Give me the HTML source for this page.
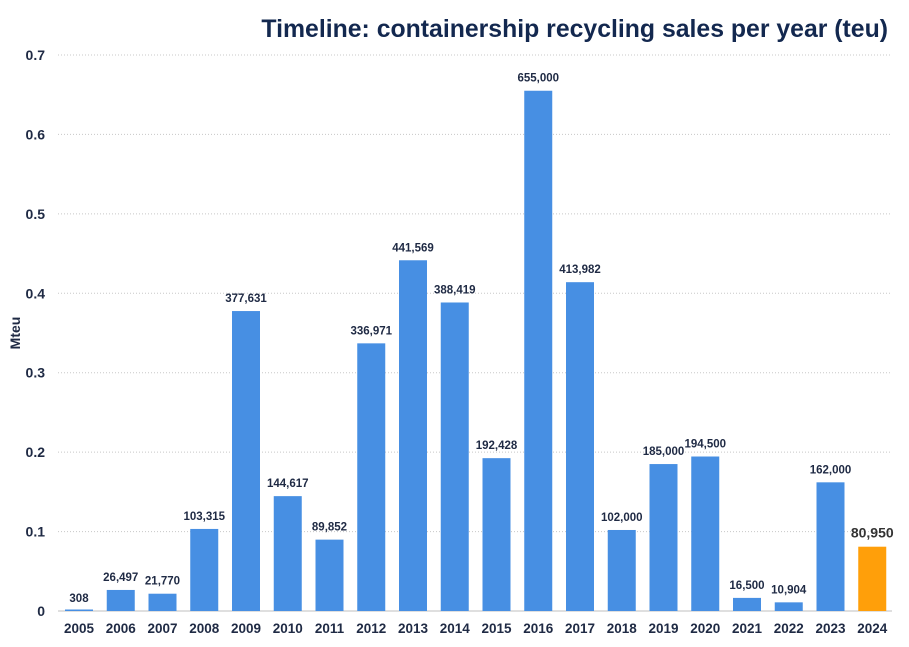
<!DOCTYPE html>
<html><head><meta charset="utf-8"><style>
body{margin:0;background:#fff;width:909px;height:642px;overflow:hidden;font-family:"Liberation Sans",Arial,sans-serif}
</style></head><body>
<svg width="909" height="642" id="c">
<text x="888" y="37" text-anchor="end" font-size="24.8" font-weight="bold" fill="#13284f">Timeline: containership recycling sales per year (teu)</text>
<text transform="translate(20,333) rotate(-90)" text-anchor="middle" font-size="14" font-weight="bold" fill="#1f2a44">Mteu</text>
</svg>
<script>
const years=["2005","2006","2007","2008","2009","2010","2011","2012","2013","2014","2015","2016","2017","2018","2019","2020","2021","2022","2023","2024"];
const values=[308,26497,21770,103315,377631,144617,89852,336971,441569,388419,192428,655000,413982,102000,185000,194500,16500,10904,162000,80950];
const yTicks=[0,0.1,0.2,0.3,0.4,0.5,0.6,0.7];
const svg=document.getElementById('c');const NS='http://www.w3.org/2000/svg';
const y=v=>611-v*(611-55)/0.7;
const x=i=>79+i*41.75;
function mk(t,a){const e=document.createElementNS(NS,t);for(const k in a)e.setAttribute(k,a[k]);svg.appendChild(e);return e;}
yTicks.forEach(t=>{
 if(t>0){const g=mk('line',{x1:58,x2:892,y1:y(t),y2:y(t),stroke:'#c8c8c8','stroke-dasharray':'1,2'});
 
 }
 const l=mk('text',{x:45,y:y(t)+5,'text-anchor':'end','font-size':14,'font-weight':'bold',fill:'#1f2a44'});l.textContent=t===0?'0':t.toFixed(1);
 
 
});
const base=mk('line',{x1:58,x2:892,y1:611,y2:611,stroke:'#bfbfbf'});


values.forEach((v,i)=>{
 const last=i===values.length-1;const m=v/1e6;
 const h=Math.max(1.5,611-y(m));
 const b=mk('rect',{x:x(i)-14,y:611-h,width:28,height:h,fill:last?'#ff9f0a':'#478fe3'});
 
 
 const t=mk('text',{x:x(i),y:y(m)-9,'text-anchor':'middle','font-size':last?14:11.5,'font-weight':'bold',fill:last?'#333':'#1f2a44'});t.textContent=v.toLocaleString('en-US');
 
 
 const yl=mk('text',{x:x(i),y:633,'text-anchor':'middle','font-size':13.5,'font-weight':'bold',fill:'#1f2a44'});yl.textContent=years[i];
 
 
});
</script>
</body></html>
